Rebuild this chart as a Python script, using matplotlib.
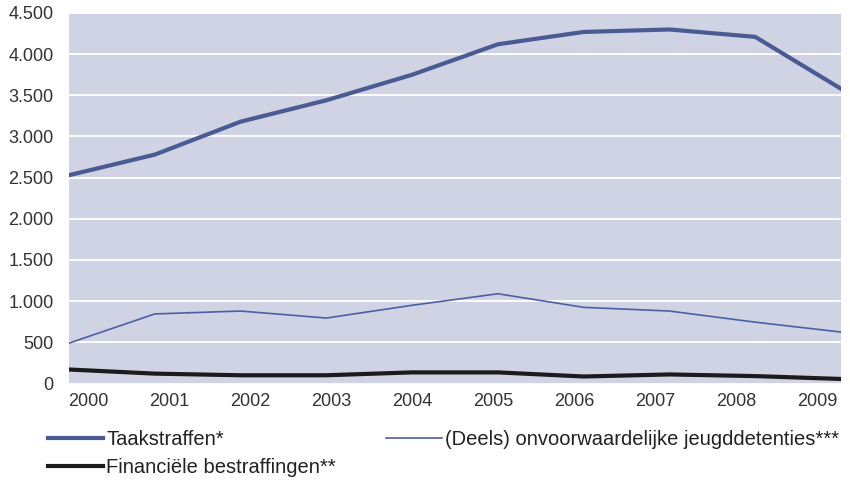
import matplotlib
matplotlib.use("Agg")
import matplotlib.pyplot as plt
import numpy as np
from matplotlib.ticker import FuncFormatter

plt.rcParams['font.family'] = ['Liberation Sans', 'DejaVu Sans']

years = [2000, 2001, 2002, 2003, 2004, 2005, 2006, 2007, 2008, 2009]
taakstraffen = [2530, 2780, 3180, 3440, 3750, 4120, 4270, 4300, 4210, 3580]
jeugddetenties = [490, 845, 880, 795, 950, 1090, 925, 880, 745, 625]
financieel = [170, 120, 100, 100, 135, 135, 85, 110, 90, 55]

labels = ['Taakstraffen*', '(Deels) onvoorwaardelijke jeugddetenties***',
          'Financiële bestraffingen**']

fig = plt.figure(figsize=(8.5, 4.8), dpi=100)
ax = fig.add_axes([69/850, 1-383.5/480, (841-69)/850, (383.5-13)/480])
ax.set_facecolor('#d0d3e4')

l1, = ax.plot(years, taakstraffen, color='#4a5a93', lw=3.0, solid_joinstyle='miter', zorder=3)
l2, = ax.plot(years, jeugddetenties, color='#4d5fa3', lw=1.2, zorder=3)
l3, = ax.plot(years, financieel, color='#1c1a1a', lw=3.0, zorder=3)

ax.set_xlim(2000, 2009)
ax.set_ylim(0, 4500)
ax.set_yticks(np.arange(0, 4501, 500))
ax.yaxis.set_major_formatter(FuncFormatter(lambda v, p: f"{v:,.0f}".replace(',', '.')))
ax.set_xticks(np.linspace(2000.22, 2008.72, len(years)))
ax.set_xticklabels([str(y) for y in years])
ax.grid(axis='y', color='white', lw=1.3)
ax.set_axisbelow(True)
for s in ax.spines.values():
    s.set_visible(False)
ax.tick_params(axis='both', length=0, labelsize=13, labelcolor='#333333')
ax.tick_params(axis='y', pad=11)
ax.tick_params(axis='x', pad=7)

fig.legend([l1, l3, l2], [labels[0], labels[2], labels[1]], ncol=2,
           loc='upper left', bbox_to_anchor=(48/850, 1-430/480), frameon=False,
           fontsize=14.5, handlelength=2.75, handletextpad=0.15, columnspacing=2.5,
           labelspacing=0.45, borderpad=0, borderaxespad=0, labelcolor='#222222')

fig.savefig('out.png', dpi=100)
